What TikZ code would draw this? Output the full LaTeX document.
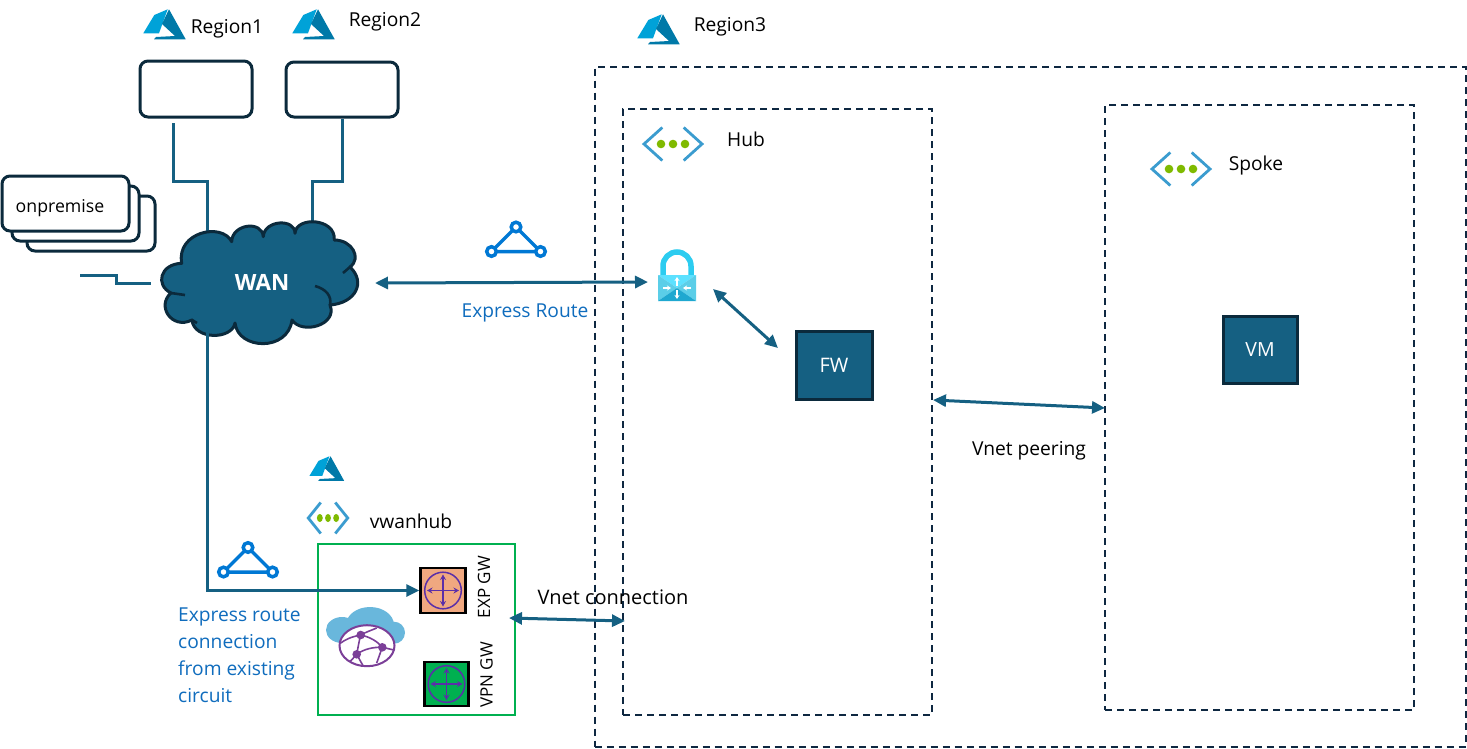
\documentclass[tikz,border=0pt]{standalone}
\usepackage{fontspec}
\setmainfont{Open Sans}
\usetikzlibrary{positioning,arrows.meta}

\definecolor{deep}{HTML}{156082}
\definecolor{ink}{HTML}{0B2A3C}
\definecolor{navy}{HTML}{0E2841}
\definecolor{azure-a}{HTML}{00A2D8}
\definecolor{azure-b}{HTML}{0079A8}
\definecolor{vnet-a}{HTML}{3B9CCF}
\definecolor{vnet-b}{HTML}{7FBA00}
\definecolor{route}{HTML}{0078D4}
\definecolor{label-blue}{HTML}{0F6CBD}
\definecolor{hub-green}{HTML}{00B050}
\definecolor{gw-orange}{HTML}{F0A880}
\definecolor{gw-line}{HTML}{5B2FA8}
\definecolor{globe}{HTML}{7B3F98}
\definecolor{sky}{HTML}{69B7DC}
\definecolor{lock-a}{HTML}{2CCCF0}
\definecolor{lock-b}{HTML}{5CE1FF}
\definecolor{lock-c}{HTML}{5BCEE8}
\definecolor{lock-d}{HTML}{1FA8D0}

\tikzset{
  azure-logo/.pic={
    \fill [azure-a] (23.7,0.3) -- (10.3,6) -- (-0.7,24.3) -- (15,24.3) -- cycle;
    \fill [azure-b] (25,0.3) -- (41.7,30.3) -- (10,30.3) -- (12,28) -- (31,27) -- (18,15) -- cycle;
  },
  vnet-mark/.pic={
    \draw [vnet-a, line width=2.8pt] (-10.7,-16.5) -- (-29,0) -- (-10.7,16.5);
    \draw [vnet-a, line width=2.8pt] (10.7,-16.5) -- (29,0) -- (10.7,16.5);
    \foreach \dotx in {-12,0,12}
      \fill [vnet-b] (\dotx,0) circle (4.3);
  },
  route-mark/.pic={
    \draw [route, line width=3.5pt] (0,-12.5) -- (-24.5,12) -- (24.5,12) -- cycle;
    \foreach \cornerx/\cornery in {0/-12.5,-24.5/12,24.5/12}
      \draw [route, line width=3.5pt, fill=white] (\cornerx,\cornery) circle (4.8);
  },
  gw-cross/.pic={
    \draw [gw-line, line width=1.5pt] (0,0) circle (18.3);
    \draw [gw-line, line width=1.5pt, {Stealth[length=5.5pt,width=6pt]}-{Stealth[length=5.5pt,width=6pt]}] (-16,0) -- (16,0);
    \draw [gw-line, line width=1.5pt, {Stealth[length=5.5pt,width=6pt]}-{Stealth[length=5.5pt,width=6pt]}] (0,-16) -- (0,16);
  }
}

\begin{document}
\begin{tikzpicture}
[
x=1pt, y=-1pt,
box-a/.style={draw=ink, line width=3pt, rounded corners=8pt, fill=white, inner sep=0pt},
box-b/.style={draw=ink, line width=3pt, fill=deep, text=white, inner sep=0pt},
box-c/.style={draw=navy, line width=2.9pt, dash pattern=on 7pt off 5pt, inner sep=0pt},
gw-a/.style={draw=black, line width=2.4pt, inner sep=0pt},
text-a/.style={font=\fontsize{19.2}{23}\selectfont, inner sep=0pt},
text-b/.style={text-a, text=label-blue},
text-c/.style={font=\fontsize{17}{20}\selectfont, inner sep=0pt, rotate=90},
link/.style={draw=deep, line width=3pt},
both/.style={link, {Triangle[length=13pt,width=12pt]}-{Triangle[length=13pt,width=12pt]}},
into/.style={link, -{Triangle[length=13pt,width=12pt]}}
]
\useasboundingbox (0,0) rectangle (1467,748);

% dashed containers
\node (region-3-box) [box-c, line width=2pt, minimum width=871pt, minimum height=680pt] at (1030,406.5) {};
\node (hub-box)      [box-c, minimum width=309pt, minimum height=606pt] at (777.5,412) {};
\node (spoke-box)    [box-c, minimum width=309pt, minimum height=605pt] at (1259.5,407.5) {};

% regions
\pic at (144,9) {azure-logo};
\pic at (293,9) {azure-logo};
\pic at (638,14) {azure-logo};
\node (region-1) [text-a] at (227,29) {Region1};
\node (region-2) [text-a] at (385,22) {Region2};
\node (region-3) [text-a] at (730,27) {Region3};
\node (region-1-box) [box-a, minimum width=112pt, minimum height=56pt] at (196,89) {};
\node (region-2-box) [box-a, minimum width=112pt, minimum height=55pt] at (342,89.5) {};

% onpremise stack
\node (onprem-3) [box-a, minimum width=128pt, minimum height=55pt] at (91,223.5) {};
\node (onprem-2) [box-a, minimum width=127pt, minimum height=55pt] at (75.5,213.5) {};
\node (onprem-1) [box-a, minimum width=127pt, minimum height=55pt] at (65.5,203.5) {};
\node (onprem-lb) [text-a, font=\fontsize{17.7}{21}\selectfont] at (60,208) {onpremise};

% WAN cloud
\coordinate (region-1-out) at (173,123);
\coordinate (wan-top-1) at (207,238);
\coordinate (wan-top-2) at (312,228);
\coordinate (wan-bottom) at (207,330);
\draw [link] (region-1-out) |- (207,181) -- (wan-top-1);
\draw [link] (region-2-box.south) |- (312,181) -- (wan-top-2);
\filldraw [fill=deep, draw=ink, line width=3pt, line join=round]
  (181.7,263.3) .. controls (176,232) and (222,222) .. (231.7,241.7)
  .. controls (232,224) and (262,220) .. (263.3,236.7)
  .. controls (264,220) and (295,218) .. (295,233.3)
  .. controls (296,216) and (336,218) .. (334.3,240)
  .. controls (352,240) and (362,258) .. (350,267)
  .. controls (366,282) and (356,303) .. (330,305)
  .. controls (338,325) and (302,335) .. (292,320)
  .. controls (288,352) and (238,350) .. (235,323)
  .. controls (232,340) and (194,340) .. (192,320)
  .. controls (172,330) and (156,306) .. (171,293)
  .. controls (155,285) and (160,264) .. (181.7,263.3) -- cycle;
\draw [ink, line width=2.6pt] (343,273) -- (350,267);
\draw [ink, line width=2.6pt] (315,286) .. controls (326,289) and (332,296) .. (330,305);
\draw [ink, line width=2.6pt] (171,293) -- (185,295);
\draw [ink, line width=2.6pt] (192,320) -- (197,323);
\node (wan) [text-a, text=white, font=\fontsize{22.4}{26}\selectfont\bfseries] at (262,282) {WAN};

% free line left of the cloud
\coordinate (line-start) at (80,275);
\coordinate (line-end) at (151,283);
\draw [link] (line-start) -- (116,275) -- (116,283) -- (line-end);

% express route to the hub
\coordinate (wan-east) at (375,283);
\coordinate (lock-west) at (648,282);
\coordinate (lock-south-east) at (713,289);
\pic at (516,239.5) {route-mark};
\node (er-lb) [text-b] at (525,313) {Express Route};
\draw [both] (wan-east) -- (lock-west);

% hub
\pic at (673,144) {vnet-mark};
\node (hub-lb) [text-a] at (746,139) {Hub};
\draw [lock-a, line width=5.5pt] (663,276) -- (663,266) arc (180:360:14) -- (691,276);
\fill [lock-b] (658,275) -- (696,275) -- (677,288) -- cycle;
\fill [lock-c] (658,275) -- (677,288) -- (658,301) -- cycle;
\fill [lock-c] (696,275) -- (677,288) -- (696,301) -- cycle;
\fill [lock-d] (658,301) -- (677,288) -- (696,301) -- cycle;
\draw [white, line width=1.6pt, -{Stealth[length=4pt,width=5pt]}] (677,286) -- (677,277);
\draw [white, line width=1.6pt, -{Stealth[length=4pt,width=5pt]}] (677,290) -- (677,299);
\draw [white, line width=1.6pt, -{Stealth[length=4pt,width=5pt]}] (663,288) -- (671,288);
\draw [white, line width=1.6pt, -{Stealth[length=4pt,width=5pt]}] (691,288) -- (683,288);
\node (fw) [box-b, minimum width=76pt, minimum height=68pt, font=\fontsize{20}{24}\selectfont] at (834,365) {FW};
\coordinate (fw-north-west) at (778,348);
\draw [both] (lock-south-east) -- (fw-north-west);

% spoke
\pic at (1181,169) {vnet-mark};
\node (spoke-lb) [text-a] at (1256,165.5) {Spoke};
\node (vm) [box-b, minimum width=74pt, minimum height=67pt, font=\fontsize{19.5}{24}\selectfont] at (1260,349.5) {VM};

% peering
\coordinate (peer-a) at (933,400);
\coordinate (peer-b) at (1105,408);
\draw [both] (peer-a) -- (peer-b);
\node (peer-lb) [text-a] at (1029,451) {Vnet peering};

% vwan hub
\pic [scale=.82] at (310,456) {azure-logo};
\pic [xscale=.68, yscale=.94] at (328,518) {vnet-mark};
\node (vwan-lb) [text-a] at (411,521) {vwanhub};
\node (vwan-box) [draw=hub-green, line width=2pt, inner sep=0pt, minimum width=197pt, minimum height=171pt] at (416.5,629.5) {};
\pic at (248,560) {route-mark};

% globe over a small cloud
\fill [sky] (342,630) ellipse (16 and 13);
\fill [sky] (370,625) ellipse (24 and 18);
\fill [sky] (394,632.7) circle (11);
\draw [globe, line width=2pt, fill=white] (367,645.7) ellipse (27.5 and 20.5);
\draw [globe, line width=1.6pt] (360.7,635) .. controls (350,637) and (345,640) .. (340.7,643);
\draw [globe, line width=1.6pt] (360.7,635) .. controls (366,632) and (372,630) .. (376.7,628);
\draw [globe, line width=1.6pt] (360.7,635) .. controls (370,637) and (377,641) .. (382.3,647.3);
\draw [globe, line width=1.6pt] (360.7,635) .. controls (359,641) and (358,648) .. (356.7,654.3);
\draw [globe, line width=1.6pt] (356.7,654.3) .. controls (364,649) and (373,647) .. (382.3,647.3);
\draw [globe, line width=1.6pt] (356.7,654.3) -- (350,661.7);
\draw [globe, line width=1.6pt] (356.7,654.3) -- (363,665.7);
\draw [globe, line width=1.6pt] (382.3,647.3) -- (394,650);
\draw [globe, line width=1.6pt] (382.3,647.3) -- (376.7,663);
\foreach \globex/\globey in {360.7/635,382.3/647.3,356.7/654.3}
  \fill [globe] (\globex,\globey) circle (4.3);

% gateways
\node (exp-gw) [gw-a, fill=gw-orange, minimum width=45pt, minimum height=45pt] at (443,590.5) {};
\node (vpn-gw) [gw-a, fill=hub-green, minimum width=44pt, minimum height=44pt] at (446.5,684) {};
\pic at (exp-gw.center) {gw-cross};
\pic at (vpn-gw.center) {gw-cross};
\node (exp-lb) [text-c] at (484,587) {EXP GW};
\node (vpn-lb) [text-c] at (486.5,675) {VPN GW};

% express route connection
\draw [into] (wan-bottom) |- (exp-gw.west);
\node (erc-1) [text-b, anchor=west] at (178,617) {Express route};
\node (erc-2) [text-b, anchor=west] at (178,642) {connection};
\node (erc-3) [text-b, anchor=west] at (178,670) {from existing};
\node (erc-4) [text-b, anchor=west] at (178,696) {circuit};

% vnet connection
\coordinate (conn-a) at (509,618);
\coordinate (conn-b) at (625,621);
\draw [both] (conn-a) -- (conn-b);
\node (conn-lb) [text-a, font=\fontsize{20}{24}\selectfont] at (613,597) {Vnet connection};

\end{tikzpicture}
\end{document}
